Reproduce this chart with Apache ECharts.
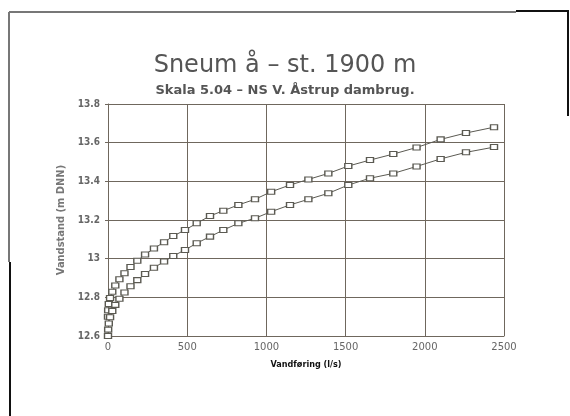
<!DOCTYPE html>
<html>
<head>
<meta charset="utf-8">
<title>Sneum å – st. 1900 m</title>
<script src="https://cdn.jsdelivr.net/npm/echarts@6/dist/echarts.min.js"></script>
<style>
  html, body { margin: 0; padding: 0; background: #fff; }
  #chart { width: 570px; height: 416px; }
</style>
</head>
<body>
<div id="chart"></div>
<script>
// vandføring (l/s) - same discharge points for both curves
const discharge = [0, 1, 5, 13, 27, 46, 72, 104, 142, 185, 234, 290, 354, 412, 486, 560,
  644, 728, 823, 928, 1030, 1149, 1265, 1391, 1517, 1654, 1801, 1948, 2100, 2260, 2437];

// vandstand (m DNN), upper and lower curve
const stageUpper = [12.70, 12.733, 12.765, 12.797, 12.829, 12.861, 12.893, 12.925, 12.957, 12.989,
  13.021, 13.053, 13.085, 13.117, 13.148, 13.183, 13.221, 13.248, 13.278, 13.307, 13.346,
  13.381, 13.41, 13.441, 13.479, 13.51, 13.541, 13.575, 13.617, 13.65, 13.68];
const stageLower = [12.60, 12.633, 12.665, 12.697, 12.729, 12.761, 12.793, 12.825, 12.857, 12.889,
  12.921, 12.953, 12.985, 13.014, 13.045, 13.08, 13.114, 13.148, 13.183, 13.209, 13.243,
  13.278, 13.307, 13.338, 13.381, 13.416, 13.441, 13.477, 13.516, 13.55, 13.577];

const xTicks = [0, 500, 1000, 1500, 2000, 2500];
const yTicks = [12.6, 12.8, 13.0, 13.2, 13.4, 13.6, 13.8];

const gridColor = '#6f675d';
const lineColor = '#5b5a52';

const chart = echarts.init(document.getElementById('chart'));

const pairs = (ys) => discharge.map((q, i) => [q, ys[i]]);

const curve = (ys) => ({
  type: 'line',
  data: pairs(ys),
  symbol: 'rect',
  symbolSize: [7, 5],
  showAllSymbol: true,
  lineStyle: { color: lineColor, width: 1 },
  itemStyle: { color: '#fff', borderColor: lineColor, borderWidth: 1.2 },
  animation: false,
  z: 3
});

const option = {
  backgroundColor: '#fff',
  title: {
    text: 'Sneum å – st. 1900 m',
    subtext: 'Skala 5.04 – NS V. Åstrup dambrug.',
    left: 'center',
    top: 49,
    itemGap: 6,
    textStyle: {
      fontFamily: 'DejaVu Sans',
      fontSize: 24,
      fontWeight: 'normal',
      color: '#555'
    },
    subtextStyle: {
      fontFamily: 'DejaVu Sans',
      fontSize: 13,
      fontWeight: 'bold',
      color: '#555'
    }
  },
  grid: {
    left: 108,
    right: 66,
    top: 104,
    bottom: 80
  },
  xAxis: {
    type: 'value',
    min: xTicks[0],
    max: xTicks[xTicks.length - 1],
    interval: 500,
    name: 'Vandføring (l/s)',
    nameLocation: 'middle',
    nameGap: 24,
    nameTextStyle: { fontFamily: 'DejaVu Sans Condensed', fontSize: 9, fontWeight: 'bold', color: '#111' },
    axisLine: { lineStyle: { color: gridColor, width: 1 } },
    axisTick: { inside: true, length: 3, lineStyle: { color: gridColor } },
    axisLabel: {
      fontFamily: 'DejaVu Sans', fontSize: 10, color: '#666', margin: 6,
      formatter: (v) => String(v)
    },
    splitLine: { lineStyle: { color: gridColor, width: 1 } }
  },
  yAxis: {
    type: 'value',
    min: yTicks[0],
    max: yTicks[yTicks.length - 1],
    interval: 0.2,
    name: 'Vandstand (m DNN)',
    nameLocation: 'middle',
    nameGap: 38,
    nameTextStyle: { fontFamily: 'DejaVu Sans Condensed', fontSize: 11, fontWeight: 'bold', color: '#777' },
    axisLine: { show: true, lineStyle: { color: gridColor, width: 1 } },
    axisTick: { show: true, length: 3, lineStyle: { color: gridColor } },
    axisLabel: { fontFamily: 'DejaVu Sans Condensed', fontSize: 10, fontWeight: 'bold', color: '#666', margin: 8 },
    splitLine: { lineStyle: { color: gridColor, width: 1 } }
  },
  series: [curve(stageUpper), curve(stageLower)],
  graphic: [
    // scanned frame edges
    { type: 'line', shape: { x1: 9, y1: 12, x2: 516, y2: 12 }, style: { stroke: '#777', lineWidth: 2 } },
    { type: 'line', shape: { x1: 516, y1: 11, x2: 569, y2: 11 }, style: { stroke: '#111', lineWidth: 2 } },
    { type: 'line', shape: { x1: 568, y1: 11, x2: 568, y2: 116 }, style: { stroke: '#111', lineWidth: 2 } },
    { type: 'line', shape: { x1: 9, y1: 12, x2: 9, y2: 262 }, style: { stroke: '#777', lineWidth: 2 } },
    { type: 'line', shape: { x1: 10, y1: 262, x2: 10, y2: 416 }, style: { stroke: '#111', lineWidth: 2 } }
  ]
};

chart.setOption(option);
</script>
</body>
</html>
